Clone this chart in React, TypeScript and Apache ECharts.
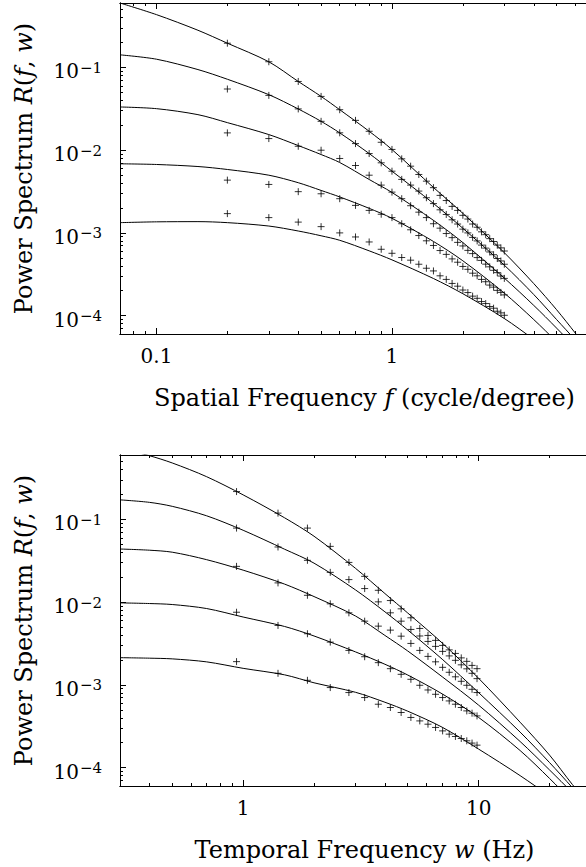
import React, { useEffect, useRef } from 'react';
import * as echarts from 'echarts';

// ---------- Top panel: spatial frequency ----------
const spatialCurveF = [0.07, 0.1, 0.15, 0.2, 0.3, 0.4, 0.5, 0.6, 0.8, 1, 1.5, 2, 3, 4, 5, 6, 7];
const spatialCurve1 = [0.6, 0.434, 0.281, 0.196, 0.1168, 0.0676, 0.0446, 0.0308, 0.0169, 0.01017, 0.00354, 0.00172, 0.000576, 0.000244, 0.000118, 0.0000617, 0.000035];
const spatialCurve2 = [0.1418, 0.1256, 0.0941, 0.0719, 0.0468, 0.03145, 0.0223, 0.01616, 0.0091, 0.00557, 0.00227, 0.001136, 0.000407, 0.00018, 0.0000897, 0.0000508, 0.00003];
const spatialCurve3 = [0.03324, 0.03171, 0.02685, 0.0215, 0.01542, 0.01136, 0.00885, 0.00709, 0.00442, 0.00308, 0.001418, 0.000764, 0.000284, 0.000133, 0.0000707, 0.0000412, 0.0000254];
const spatialCurve4 = [0.00684, 0.00671, 0.00634, 0.00584, 0.00498, 0.00404, 0.00326, 0.00272, 0.00198, 0.0015, 0.000788, 0.00046, 0.000187, 0.0000897, 0.0000482, 0.0000281, 0.0000173];
const spatialCurve5 = [0.00133, 0.00136, 0.001368, 0.00133, 0.00121, 0.001054, 0.000923, 0.000814, 0.000607, 0.000472, 0.000281, 0.000184, 0.0000923, 0.0000515, 0.0000315, 0.0000203, 0.0000138];

const spatialDataF = [0.2, 0.3, 0.4, 0.5, 0.6, 0.7, 0.8, 0.9, 1.0, 1.1, 1.2, 1.3, 1.4, 1.5, 1.6, 1.7, 1.8, 1.9, 2.0, 2.1, 2.2, 2.3, 2.4, 2.5, 2.6, 2.7, 2.8, 2.9, 3.0];
const spatialData1 = [0.196, 0.117, 0.0676, 0.0446, 0.0308, 0.0229, 0.0169, 0.01245, 0.0102, 0.00785, 0.0064, 0.00508, 0.00422, 0.00352, 0.00284, 0.00246, 0.00209, 0.00187, 0.00163, 0.00147, 0.00128, 0.00117, 0.00103, 0.000952, 0.000852, 0.000787, 0.000712, 0.000659, 0.000604];
const spatialData2 = [0.0548, 0.0459, 0.0315, 0.0223, 0.0162, 0.012, 0.0091, 0.00703, 0.00557, 0.00443, 0.00378, 0.0032, 0.00266, 0.00226, 0.0019, 0.00167, 0.00144, 0.00128, 0.00111, 0.001, 0.000882, 0.0008, 0.000712, 0.000655, 0.000588, 0.000545, 0.00049, 0.000458, 0.000418];
const spatialData3 = [0.01616, 0.0138, 0.01114, 0.00998, 0.00793, 0.00652, 0.00498, 0.00378, 0.00311, 0.00259, 0.00213, 0.00178, 0.00153, 0.00129, 0.00114, 0.000982, 0.000876, 0.000768, 0.000695, 0.000615, 0.000562, 0.000503, 0.000465, 0.000419, 0.000389, 0.000353, 0.000331, 0.000301, 0.000282];
const spatialData4 = [0.00434, 0.00385, 0.00315, 0.00297, 0.00259, 0.00215, 0.00187, 0.00168, 0.00153, 0.00129, 0.00109, 0.000929, 0.000802, 0.000705, 0.000612, 0.00055, 0.000485, 0.000442, 0.000393, 0.000363, 0.000326, 0.000303, 0.000274, 0.000257, 0.000234, 0.000221, 0.000202, 0.000191, 0.000178];
const spatialData5 = [0.00171, 0.00153, 0.00135, 0.00119, 0.001, 0.000893, 0.000777, 0.000634, 0.000567, 0.000504, 0.000468, 0.000418, 0.000374, 0.000347, 0.000303, 0.000274, 0.000245, 0.000227, 0.000204, 0.00019, 0.000172, 0.000162, 0.000148, 0.00014, 0.000129, 0.000123, 0.000113, 0.000108, 0.000101];

// ---------- Bottom panel: temporal frequency ----------
const temporalCurveW = [0.3, 0.4, 0.5, 0.7, 1, 1.5, 2, 3, 4, 5, 7, 10, 15, 20, 25, 30];
const temporalCurve1 = [0.723, 0.5886, 0.4808, 0.328, 0.1979, 0.1045, 0.0626, 0.02562, 0.0127, 0.00739, 0.00321, 0.0012, 0.000354, 0.0001418, 0.0000626, 0.0000335];
const temporalCurve2 = [0.1722, 0.1607, 0.1438, 0.1105, 0.0739, 0.0436, 0.0296, 0.01406, 0.00764, 0.0046, 0.002045, 0.000805, 0.000269, 0.0001152, 0.0000573, 0.0000315];
const temporalCurve3 = [0.04386, 0.04243, 0.04014, 0.0326, 0.02436, 0.01652, 0.01168, 0.0068, 0.00396, 0.002568, 0.001255, 0.000569, 0.000207, 0.0000938, 0.0000497, 0.0000289];
const temporalCurve4 = [0.0098, 0.00962, 0.00936, 0.00837, 0.00661, 0.00508, 0.0039, 0.002505, 0.001776, 0.001316, 0.000779, 0.000404, 0.000161, 0.0000741, 0.0000387, 0.0000221];
const temporalCurve5 = [0.002133, 0.002103, 0.002063, 0.001898, 0.001585, 0.001323, 0.00106, 0.000814, 0.000617, 0.000481, 0.000308, 0.0001675, 0.0000801, 0.0000452, 0.0000281, 0.000019];

const temporalDataW = [0.9375, 1.40625, 1.875, 2.34375, 2.8125, 3.28125, 3.75, 4.21875, 4.6875, 5.15625, 5.625, 6.09375, 6.5625, 7.03125, 7.5, 7.96875, 8.4375, 8.90625, 9.375, 9.84375];
const temporalData1 = [0.2169, 0.119, 0.0785, 0.0472, 0.0302, 0.0205, 0.0139, 0.01045, 0.0083, 0.00647, 0.00481, 0.00396, 0.00345, 0.003, 0.00265, 0.0024, 0.00212, 0.001925, 0.00172, 0.00157];
const temporalData2 = [0.0785, 0.0464, 0.032, 0.0229, 0.01872, 0.01459, 0.01008, 0.00743, 0.00589, 0.00468, 0.0039, 0.00335, 0.00292, 0.00254, 0.00224, 0.00198, 0.001747, 0.001563, 0.00138, 0.00119];
const temporalData3 = [0.02706, 0.01708, 0.0121, 0.00954, 0.00743, 0.00589, 0.00513, 0.00459, 0.00388, 0.00317, 0.00261, 0.00221, 0.0019, 0.00163, 0.00142, 0.001252, 0.001105, 0.000989, 0.000885, 0.000808];
const temporalData4 = [0.00755, 0.00523, 0.00415, 0.00329, 0.00261, 0.00219, 0.001857, 0.00157, 0.001342, 0.001168, 0.000989, 0.000868, 0.00077, 0.000703, 0.00064, 0.000584, 0.000533, 0.000485, 0.000455, 0.000422];
const temporalData5 = [0.00191, 0.00138, 0.001136, 0.000928, 0.000808, 0.000703, 0.000584, 0.000533, 0.000464, 0.000404, 0.000367, 0.000335, 0.000306, 0.000278, 0.000254, 0.000238, 0.000225, 0.000211, 0.000198, 0.000187];

// ---------- Axis ticks / labels ----------
const yRange = [6e-5, 0.6];
const yMajorTicks = [1e-4, 1e-3, 1e-2, 1e-1];
const yMinorTicks = [7e-5, 8e-5, 9e-5, 2e-4, 3e-4, 4e-4, 5e-4, 6e-4, 7e-4, 8e-4, 9e-4, 2e-3, 3e-3, 4e-3, 5e-3, 6e-3, 7e-3, 8e-3, 9e-3, 2e-2, 3e-2, 4e-2, 5e-2, 6e-2, 7e-2, 8e-2, 9e-2, 0.2, 0.3, 0.4, 0.5, 0.6];

const spatialRange = [0.07, 7];
const spatialMajorTicks = [0.1, 1];
const spatialTickLabels = ['0.1', '1'];
const spatialMinorTicks = [0.07, 0.08, 0.09, 0.2, 0.3, 0.4, 0.5, 0.6, 0.7, 0.8, 0.9, 2, 3, 4, 5, 6, 7];

const temporalRange = [0.3, 30];
const temporalMajorTicks = [1, 10];
const temporalTickLabels = ['1', '10'];
const temporalMinorTicks = [0.3, 0.4, 0.5, 0.6, 0.7, 0.8, 0.9, 2, 3, 4, 5, 6, 7, 8, 9, 20, 30];

const FONT = 'DejaVu Serif';
const BLACK = '#000';

const zip = (xs: number[], ys: number[]) => xs.map((x, i) => [x, ys[i]]);

function xAxis(gridIndex: number, position: string, range: number[], ticks: number[], len: number, label?: { values: number[]; texts: string[] }, name?: string) {
  const ax: any = {
    type: 'log', logBase: 10, gridIndex, position, min: range[0], max: range[1],
    axisLine: { show: true, onZero: false, lineStyle: { color: BLACK, width: 1 } },
    axisTick: { show: true, inside: true, length: len, customValues: ticks, lineStyle: { color: BLACK, width: 1 } },
    axisLabel: { show: false },
    splitLine: { show: false },
    minorTick: { show: false },
    minorSplitLine: { show: false },
  };
  if (label) {
    ax.axisLabel = {
      show: true, customValues: label.values, margin: 12, color: BLACK, fontFamily: FONT, fontSize: 20,
      formatter: (v: number) => { const i = label.values.findIndex((t) => Math.abs(t - v) / t < 1e-6); return i >= 0 ? label.texts[i] : ''; },
    };
  }
  if (name) {
    ax.name = name;
    ax.nameLocation = 'middle';
    ax.nameGap = 52;
    ax.nameTextStyle = {
      color: BLACK, fontFamily: FONT, fontSize: 24, padding: [0, 0, 0, 18],
      rich: { n: { fontFamily: FONT, fontSize: 24, color: BLACK }, i: { fontFamily: FONT, fontSize: 24, fontStyle: 'italic', color: BLACK } },
    };
  }
  return ax;
}

function yAxis(gridIndex: number, ticks: number[], len: number, withLabels: boolean) {
  const ax: any = {
    type: 'log', logBase: 10, gridIndex, position: 'left', min: yRange[0], max: yRange[1],
    axisLine: { show: true, onZero: false, lineStyle: { color: BLACK, width: 1 } },
    axisTick: { show: true, inside: true, length: len, customValues: ticks, lineStyle: { color: BLACK, width: 1 } },
    axisLabel: { show: false },
    splitLine: { show: false },
    minorTick: { show: false },
    minorSplitLine: { show: false },
  };
  if (withLabels) {
    ax.axisLabel = {
      show: true, customValues: yMajorTicks, margin: 18, color: BLACK, fontFamily: FONT,
      formatter: (v: number) => '{b|10}{s|\u2212' + Math.round(-Math.log10(v)) + '}',
      rich: {
        b: { fontFamily: FONT, fontSize: 20, color: BLACK, lineHeight: 26, padding: [8, 0, 0, 0] },
        s: { fontFamily: FONT, fontSize: 15, color: BLACK, lineHeight: 16, verticalAlign: 'top', padding: [6, 0, 0, 1] },
      },
    };
    ax.name = '{n|Power Spectrum }{i|R}{n|(}{i|f}{n|, }{i|w}{n|)}';
    ax.nameLocation = 'middle';
    ax.nameGap = 84;
    ax.nameRotate = 90;
    ax.nameTextStyle = {
      color: BLACK, fontFamily: FONT, fontSize: 24,
      rich: { n: { fontFamily: FONT, fontSize: 24, color: BLACK }, i: { fontFamily: FONT, fontSize: 24, fontStyle: 'italic', color: BLACK } },
    };
  }
  return ax;
}

const curveSeries = (xs: number[], ys: number[], xi: number, yi: number) => ({
  type: 'line', data: zip(xs, ys), xAxisIndex: xi, yAxisIndex: yi,
  symbol: 'none', showSymbol: false, smooth: 0.3, clip: true, silent: true,
  lineStyle: { color: BLACK, width: 1 },
});
const dataSeries = (xs: number[], ys: number[], xi: number, yi: number) => ({
  type: 'scatter', data: zip(xs, ys), xAxisIndex: xi, yAxisIndex: yi,
  symbol: 'path://M5,0L5,10M0,5L10,5', symbolSize: 7, clip: true, silent: true,
  itemStyle: { color: 'none', borderColor: BLACK, borderWidth: 1 },
});

export default function App() {
  const ref = useRef<HTMLDivElement>(null);
  useEffect(() => {
    if (!ref.current) return;
    const chart = echarts.init(ref.current, null, { renderer: 'svg' });
    const g = { left: 120, width: 471, height: 331 };
    const option: any = {
      animation: false,
      backgroundColor: '#fff',
      grid: [
        { ...g, top: 3 },
        { ...g, top: 3 },
        { ...g, top: 455 },
        { ...g, top: 455 },
      ],
      xAxis: [
        xAxis(0, 'bottom', spatialRange, spatialMajorTicks, 6, { values: spatialMajorTicks, texts: spatialTickLabels }, '{n|Spatial Frequency }{i|f}{n| (cycle/degree)}'),
        xAxis(0, 'top', spatialRange, spatialMajorTicks, 6),
        xAxis(1, 'bottom', spatialRange, spatialMinorTicks, 3),
        xAxis(1, 'top', spatialRange, spatialMinorTicks, 3),
        xAxis(2, 'bottom', temporalRange, temporalMajorTicks, 6, { values: temporalMajorTicks, texts: temporalTickLabels }, '{n|Temporal Frequency }{i|w}{n| (Hz)}'),
        xAxis(2, 'top', temporalRange, temporalMajorTicks, 6),
        xAxis(3, 'bottom', temporalRange, temporalMinorTicks, 3),
        xAxis(3, 'top', temporalRange, temporalMinorTicks, 3),
      ],
      yAxis: [
        yAxis(0, yMajorTicks, 6, true),
        yAxis(1, yMinorTicks, 3, false),
        yAxis(2, yMajorTicks, 6, true),
        yAxis(3, yMinorTicks, 3, false),
      ],
      series: [
        curveSeries(spatialCurveF, spatialCurve1, 0, 0),
        curveSeries(spatialCurveF, spatialCurve2, 0, 0),
        curveSeries(spatialCurveF, spatialCurve3, 0, 0),
        curveSeries(spatialCurveF, spatialCurve4, 0, 0),
        curveSeries(spatialCurveF, spatialCurve5, 0, 0),
        dataSeries(spatialDataF, spatialData1, 0, 0),
        dataSeries(spatialDataF, spatialData2, 0, 0),
        dataSeries(spatialDataF, spatialData3, 0, 0),
        dataSeries(spatialDataF, spatialData4, 0, 0),
        dataSeries(spatialDataF, spatialData5, 0, 0),
        curveSeries(temporalCurveW, temporalCurve1, 4, 2),
        curveSeries(temporalCurveW, temporalCurve2, 4, 2),
        curveSeries(temporalCurveW, temporalCurve3, 4, 2),
        curveSeries(temporalCurveW, temporalCurve4, 4, 2),
        curveSeries(temporalCurveW, temporalCurve5, 4, 2),
        dataSeries(temporalDataW, temporalData1, 4, 2),
        dataSeries(temporalDataW, temporalData2, 4, 2),
        dataSeries(temporalDataW, temporalData3, 4, 2),
        dataSeries(temporalDataW, temporalData4, 4, 2),
        dataSeries(temporalDataW, temporalData5, 4, 2),
      ],
    };
    chart.setOption(option);
    return () => chart.dispose();
  }, []);
  return (
    <div style={{ position: 'fixed', left: 0, top: 0, width: 586, height: 867, overflow: 'hidden', background: '#fff' }}>
      <div ref={ref} style={{ width: 600, height: 867 }} />
    </div>
  );
}
